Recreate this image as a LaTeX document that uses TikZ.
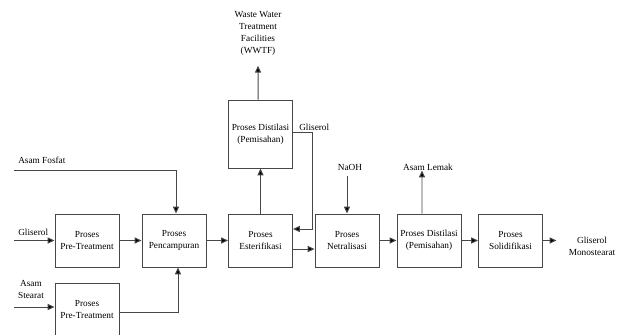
\documentclass[tikz,border=0pt]{standalone}
\usepackage{fontspec}
\setmainfont{Liberation Serif}
\usetikzlibrary{arrows.meta, positioning}

\begin{document}
\begin{tikzpicture}[x=0.25mm, y=-0.25mm,
    proses/.style={draw=black!72, line width=0.7pt, minimum width=16mm, minimum height=13.25mm, align=center, inner sep=0pt, font=\fontsize{6.6}{8.5}\selectfont},
    flow/.style={draw=black!72, line width=0.7pt, -{Triangle[length=1.7mm, width=1.5mm, fill=black]}},
    lbl/.style={align=center, inner sep=0pt, font=\fontsize{6.6}{8.5}\selectfont}]
\useasboundingbox (0,0) rectangle (619,334);

% process boxes
\node[proses] (pre1) at (87,240.5) {Proses\\Pre-Treatment};
\node[proses] (mix) at (174,240.5) {Proses\\Pencampuran};
\node[proses] (est) at (260.5,240.5) {Proses\\Esterifikasi};
\node[proses, minimum height=17mm] (dist1) at (260.5,134) {Proses Distilasi\\(Pemisahan)};
\node[proses] (net) at (347,240.5) {Proses\\Netralisasi};
\node[proses] (dist2) at (429,240.5) {Proses Distilasi\\(Pemisahan)};
\node[proses] (solid) at (510.5,240.5) {Proses\\Solidifikasi};
\node[proses] (pre2) at (87,309.5) {Proses\\Pre-Treatment};

% streams
\node[lbl, anchor=west] (gli) at (18,232) {Gliserol};
\node[lbl] (stearat) at (31,289) {Asam\\Stearat};
\node[lbl, anchor=west] (fosfat) at (18,160) {Asam Fosfat};
\node[lbl] (naoh) at (350,167) {NaOH};
\node[lbl] (lemak) at (428,167) {Asam Lemak};
\node[lbl] (wwtf) at (258,33.5) {Waste Water\\Treatment\\Facilities\\(WWTF)};
\node[lbl] (gm) at (592,246) {Gliserol\\Monostearat};
\node[lbl, anchor=west] (gli2) at (299,127) {Gliserol};

\coordinate (in1) at (14,240.5);
\coordinate (in2) at (14,307);
\coordinate (in3) at (14,170);
\coordinate (turn) at (312,132);

\draw[flow] (in1) -- (pre1.west |- in1);
\draw[flow] (pre1) -- (mix);
\draw[flow] (mix) -- (est);
\draw[flow] (in2) -- (pre2.west |- in2);
\draw[flow] (pre2.east |- 0,312) -| ([xshift=1mm]mix.south);
\draw[flow] (in3) -| ([xshift=0.5mm]mix.north);
\draw[flow] (est.north) -- (dist1.south);
\draw[flow] ([xshift=-0.6mm]dist1.north) -- ([yshift=-2.5mm]wwtf.south);
\draw[flow] (dist1.east |- turn) -- (turn) |- (est.east |- 0,229);
\draw[flow] (est.east |- 0,249) -- (net.west |- 0,249);
\draw[flow, shorten <=1.5mm] (naoh.south -| net.north) -- (net.north);
\draw[flow] (net) -- (dist2);
\draw[flow] (dist2) -- (solid);
\draw[flow] ([xshift=-1.75mm]dist2.north) -- ([xshift=-1.5mm]lemak.south);
\draw[flow, shorten >=3mm] (solid) -- (gm.west |- solid);

\end{tikzpicture}
\end{document}
